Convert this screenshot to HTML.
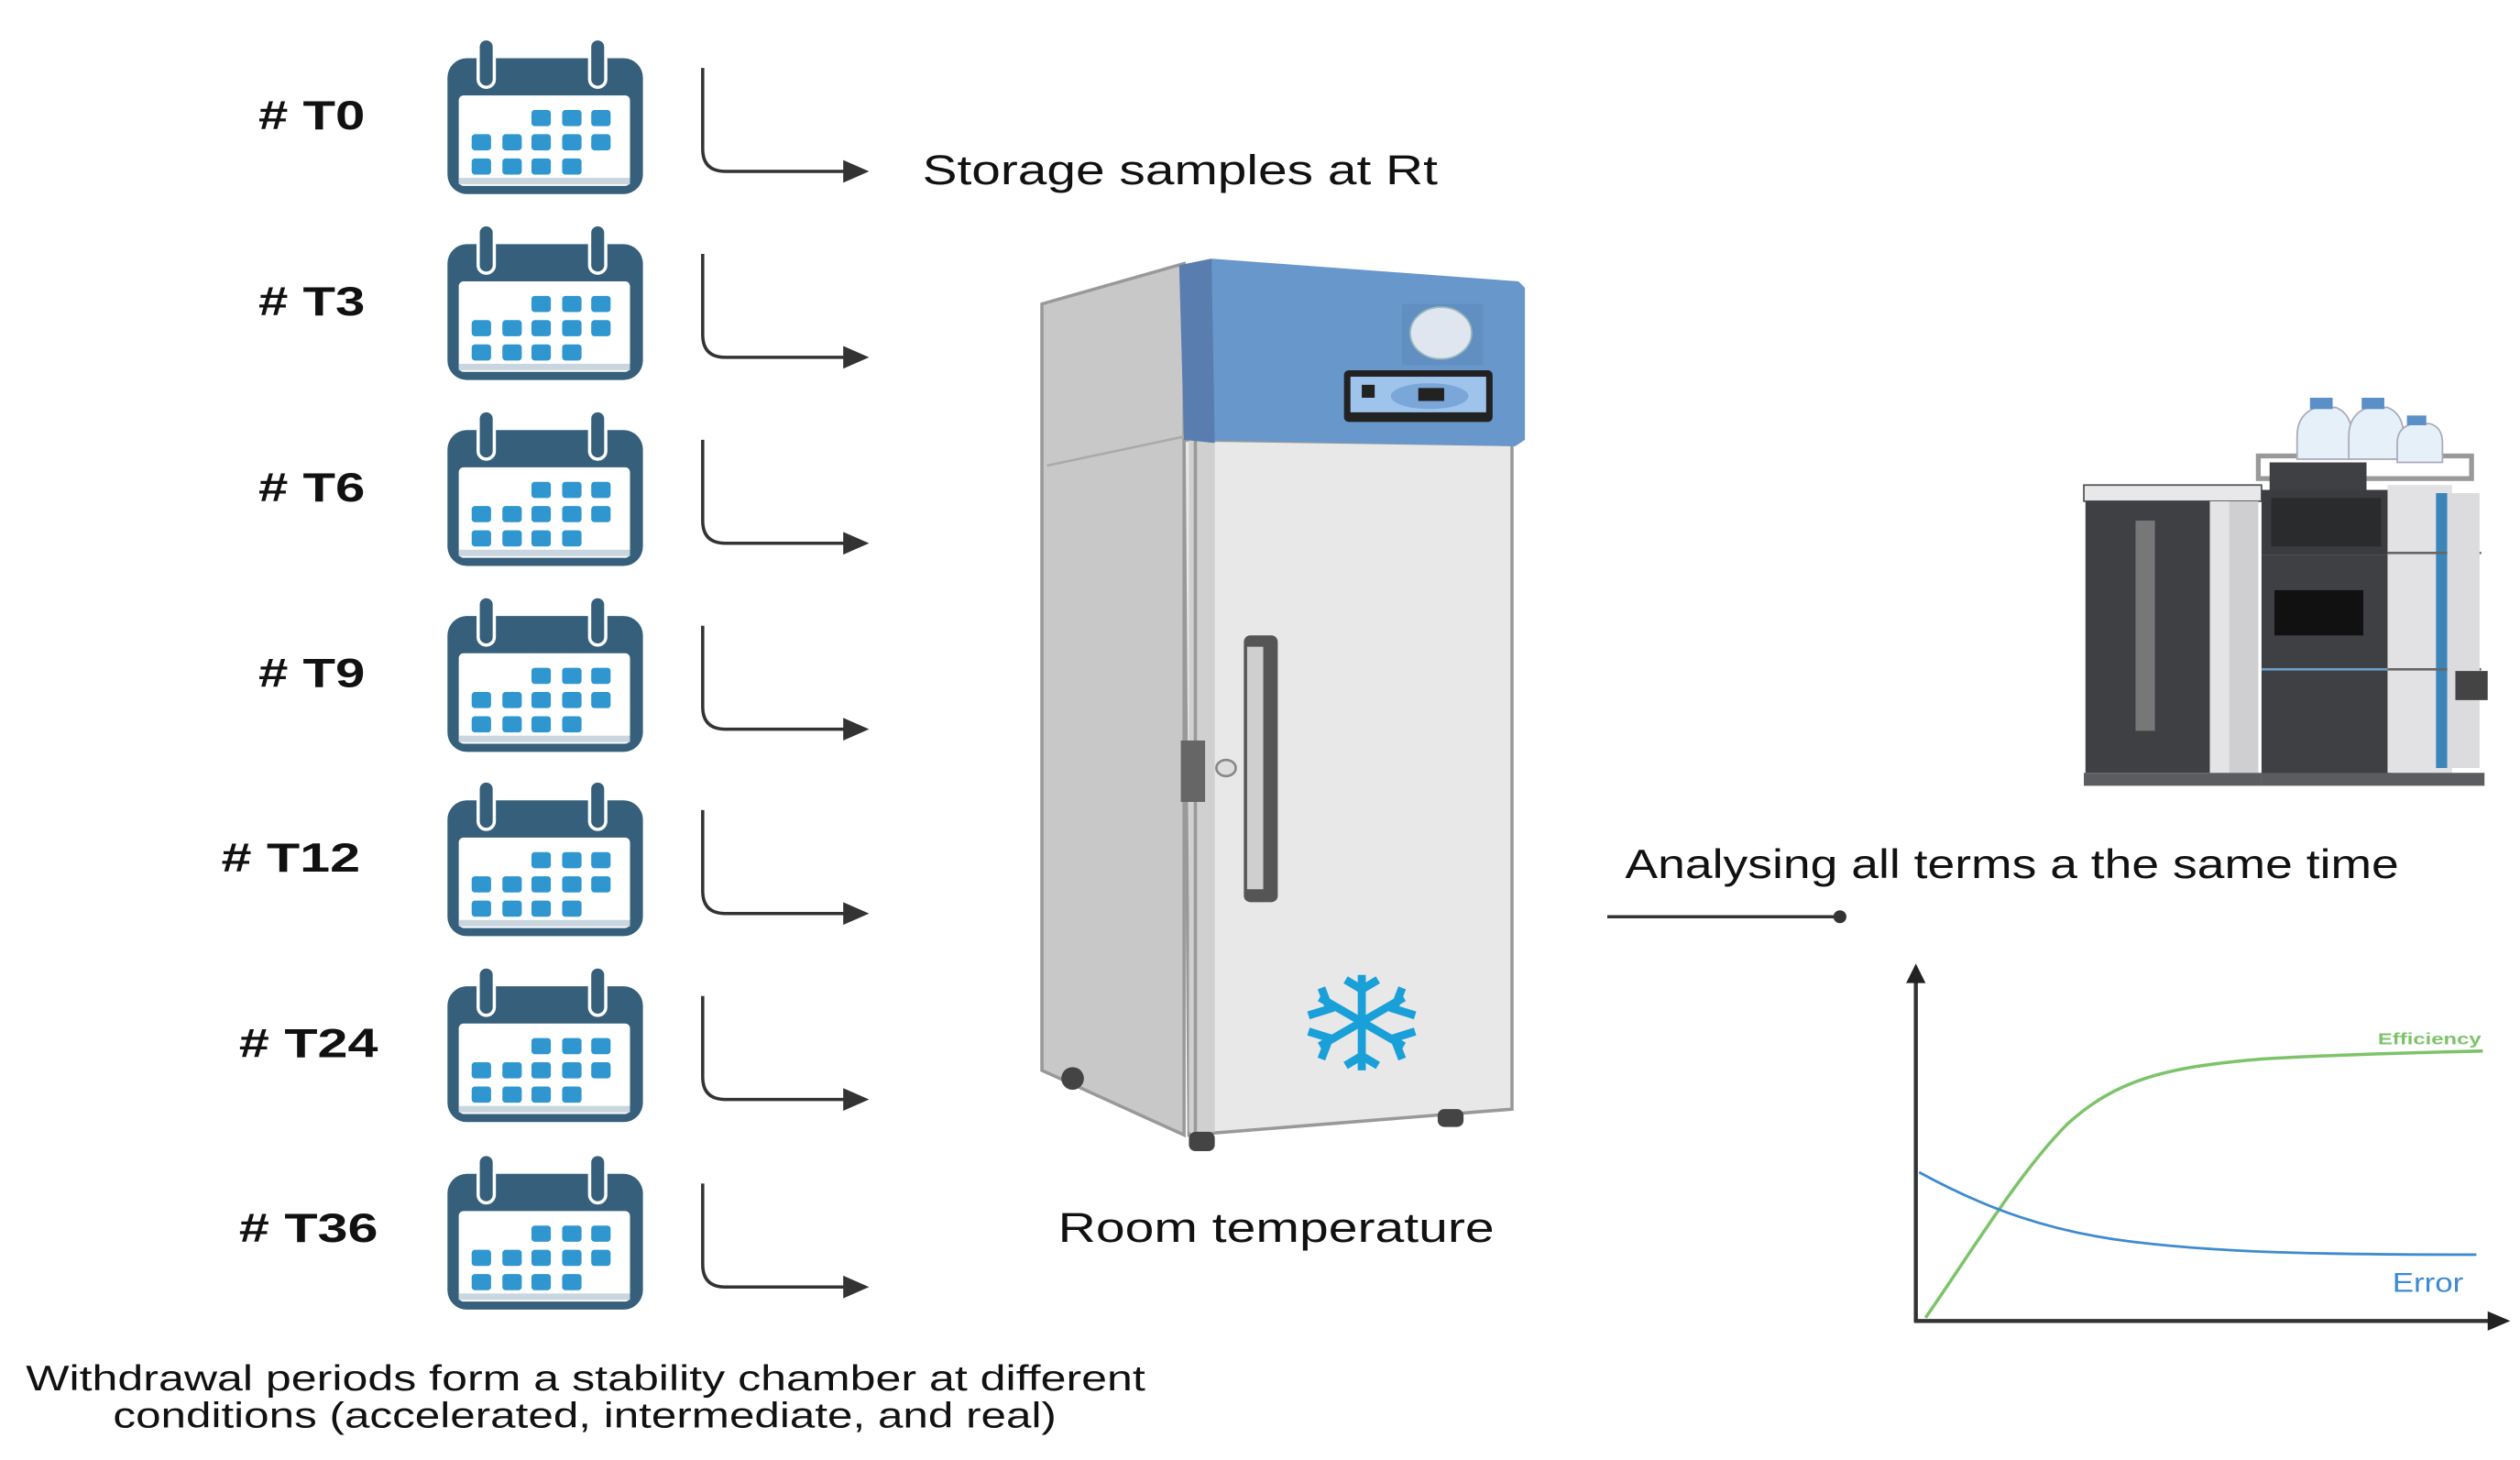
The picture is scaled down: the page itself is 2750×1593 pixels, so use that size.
<!DOCTYPE html>
<html><head><meta charset="utf-8"><style>
html,body{margin:0;padding:0;background:#fff;}
svg{display:block;}
text{font-family:"Liberation Sans",sans-serif;}
</style></head><body>
<svg width="2750" height="1593" viewBox="0 0 1560 903" preserveAspectRatio="none" xmlns="http://www.w3.org/2000/svg">
<defs>
<g id="cal">
  <rect x="277" y="36" width="121" height="84" rx="12" fill="#355f7a"/>
  <rect x="284" y="59" width="106" height="56" rx="3" fill="#fff"/>
  <rect x="284" y="110" width="106" height="4" fill="#c9d6df"/>
  <rect x="296" y="24" width="10" height="30" rx="5" fill="#355f7a" stroke="#fff" stroke-width="2"/>
  <rect x="365" y="24" width="10" height="30" rx="5" fill="#355f7a" stroke="#fff" stroke-width="2"/>
  <g fill="#2f96d0">
    <rect x="329" y="68" width="12" height="10" rx="2"/><rect x="348" y="68" width="12" height="10" rx="2"/><rect x="366" y="68" width="12" height="10" rx="2"/>
    <rect x="292" y="83" width="12" height="10" rx="2"/><rect x="311" y="83" width="12" height="10" rx="2"/><rect x="329" y="83" width="12" height="10" rx="2"/><rect x="348" y="83" width="12" height="10" rx="2"/><rect x="366" y="83" width="12" height="10" rx="2"/>
    <rect x="292" y="98" width="12" height="10" rx="2"/><rect x="311" y="98" width="12" height="10" rx="2"/><rect x="329" y="98" width="12" height="10" rx="2"/><rect x="348" y="98" width="12" height="10" rx="2"/>
  </g>
  <path d="M435 42 V92 Q435 106 449 106 H524" fill="none" stroke="#333" stroke-width="2"/>
  <path d="M522 99 L538 106 L522 113 Z" fill="#333"/>
</g>
</defs>

<g font-weight="bold" font-size="25" fill="#111" lengthAdjust="spacingAndGlyphs">
  <text x="160" y="80" textLength="66" lengthAdjust="spacingAndGlyphs">#  T0</text>
  <text x="160" y="195" textLength="66" lengthAdjust="spacingAndGlyphs">#  T3</text>
  <text x="160" y="310" textLength="66" lengthAdjust="spacingAndGlyphs">#  T6</text>
  <text x="160" y="425" textLength="66" lengthAdjust="spacingAndGlyphs">#  T9</text>
  <text x="137" y="539" textLength="86" lengthAdjust="spacingAndGlyphs">#  T12</text>
  <text x="148" y="654" textLength="86" lengthAdjust="spacingAndGlyphs">#  T24</text>
  <text x="148" y="768" textLength="86" lengthAdjust="spacingAndGlyphs">#  T36</text>
</g>
<use href="#cal"/>
<use href="#cal" transform="translate(0,115)"/>
<use href="#cal" transform="translate(0,230)"/>
<use href="#cal" transform="translate(0,345)"/>
<use href="#cal" transform="translate(0,459)"/>
<use href="#cal" transform="translate(0,574)"/>
<use href="#cal" transform="translate(0,690)"/>

<text x="571" y="114" font-size="26" fill="#111" textLength="319" lengthAdjust="spacingAndGlyphs">Storage samples at Rt</text>

<!-- fridge -->
<g>
  <polygon points="645,188 733,163 733,702 645,662" fill="#c8c8c8" stroke="#999" stroke-width="2"/>
  <line x1="648" y1="288" x2="733" y2="270" stroke="#aaa" stroke-width="1.5"/>
  <circle cx="664" cy="667" r="7" fill="#444"/>
  <polygon points="733,272 936,275 936,686 736,702" fill="#e8e8e8" stroke="#999" stroke-width="2"/>
  <rect x="736" y="272" width="16" height="428" fill="#d0d0d0"/>
  <line x1="740" y1="272" x2="740" y2="700" stroke="#999" stroke-width="2"/>
  <polygon points="730,164 750,160 940,174 944,178 944,272 938,276 733,272" fill="#6897cb"/>
  <polygon points="730,164 750,160 752,274 733,272" fill="#5a7db0"/>
  <rect x="868" y="188" width="50" height="38" fill="#628fc2"/>
  <ellipse cx="892" cy="206" rx="19" ry="16" fill="#dfe6ef" stroke="#9bb" stroke-width="1"/>
  <rect x="832" y="229" width="92" height="32" rx="3" fill="#222"/>
  <rect x="836" y="233" width="84" height="22" fill="#9ec4ec"/>
  <rect x="843" y="238" width="8" height="8" fill="#222"/>
  <ellipse cx="885" cy="245" rx="24" ry="8" fill="#7aa6d8"/>
  <rect x="878" y="240" width="16" height="8" fill="#222"/>
  <rect x="731" y="458" width="15" height="38" fill="#666"/>
  <ellipse cx="759" cy="475" rx="6" ry="5" fill="#ddd" stroke="#888" stroke-width="1.5"/>
  <rect x="770" y="393" width="21" height="165" rx="4" fill="#555"/>
  <rect x="772" y="400" width="10" height="150" fill="#cfcfcf"/>
  <g stroke="#1aa0d8" stroke-width="5" stroke-linecap="butt" fill="none">
    <line x1="843" y1="603" x2="843" y2="662"/>
    <line x1="817" y1="617" x2="869" y2="647"/>
    <line x1="817" y1="647" x2="869" y2="617"/>
    <polyline points="833,606 843,612 853,606"/>
    <polyline points="833,659 843,653 853,659"/>
    <polyline points="810,628 823,624 818,611"/>
    <polyline points="876,628 863,624 868,611"/>
    <polyline points="810,638 823,642 818,655"/>
    <polyline points="876,638 863,642 868,655"/>
  </g>
  <rect x="736" y="700" width="16" height="12" rx="4" fill="#444"/>
  <rect x="890" y="686" width="16" height="11" rx="4" fill="#444"/>
</g>
<text x="655" y="768" font-size="26" fill="#111" textLength="270" lengthAdjust="spacingAndGlyphs">Room temperature</text>

<!-- arrow to analysis -->
<line x1="995" y1="567" x2="1138" y2="567" stroke="#333" stroke-width="2"/>
<circle cx="1139" cy="567" r="4" fill="#333"/>
<text x="1006" y="543" font-size="25" fill="#111" textLength="479" lengthAdjust="spacingAndGlyphs">Analysing all terms a the same time</text>

<!-- HPLC -->
<g>
  <rect x="1290" y="300" width="110" height="10" fill="#e8e8ea" stroke="#555" stroke-width="1"/>
  <rect x="1291" y="310" width="77" height="168" fill="#3e4043"/>
  <rect x="1322" y="322" width="12" height="130" fill="#777"/>
  <rect x="1368" y="310" width="12" height="168" fill="#e4e4e6"/>
  <rect x="1380" y="310" width="18" height="168" fill="#cfcfd2"/>
  <rect x="1290" y="478" width="110" height="8" fill="#5a5c5f"/>
  <rect x="1398" y="282" width="132" height="14" fill="none" stroke="#999" stroke-width="3"/>
  <rect x="1405" y="286" width="60" height="18" fill="#3e4043"/>
  <rect x="1400" y="303" width="80" height="40" fill="#3a3c3f"/>
  <rect x="1406" y="308" width="68" height="30" fill="#2a2b2d"/>
  <rect x="1400" y="343" width="80" height="138" fill="#3e4043"/>
  <rect x="1408" y="365" width="55" height="28" fill="#111"/>
  <line x1="1400" y1="414" x2="1480" y2="414" stroke="#6aa0c8" stroke-width="1.5"/>
  <rect x="1478" y="300" width="40" height="178" fill="#e2e2e5"/>
  <rect x="1508" y="305" width="7" height="170" fill="#3b85b8"/>
  <line x1="1478" y1="342" x2="1536" y2="342" stroke="#666" stroke-width="1.5"/>
  <line x1="1478" y1="414" x2="1536" y2="414" stroke="#666" stroke-width="1.5"/>
  <rect x="1515" y="305" width="20" height="170" fill="#dcdcdf"/>
  <rect x="1520" y="415" width="20" height="18" fill="#444"/>
  <rect x="1400" y="478" width="138" height="8" fill="#5a5c5f"/>
  <path d="M1422 270 Q1422 256 1434 252 L1446 252 Q1456 256 1456 270 L1456 284 L1422 284 Z" fill="#e6f0f8" stroke="#aab" stroke-width="1"/>
  <rect x="1430" y="246" width="14" height="7" fill="#5b8fc7"/>
  <path d="M1454 270 Q1454 256 1466 252 L1478 252 Q1488 256 1488 270 L1488 284 L1454 284 Z" fill="#e6f0f8" stroke="#aab" stroke-width="1"/>
  <rect x="1462" y="246" width="14" height="7" fill="#5b8fc7"/>
  <path d="M1484 274 Q1484 264 1494 262 L1504 262 Q1512 264 1512 274 L1512 286 L1484 286 Z" fill="#e6f0f8" stroke="#aab" stroke-width="1"/>
  <rect x="1490" y="257" width="12" height="6" fill="#5b8fc7"/>
</g>

<!-- chart -->
<g>
  <line x1="1186" y1="818" x2="1186" y2="606" stroke="#333" stroke-width="2.5"/>
  <path d="M1180 608 L1186 596 L1192 608 Z" fill="#222"/>
  <line x1="1185" y1="817" x2="1542" y2="817" stroke="#333" stroke-width="2.5"/>
  <path d="M1540 811 L1554 817 L1540 823 Z" fill="#222"/>
  <path d="M1192 815 C1220 775 1250 725 1280 695 C1310 668 1340 660 1400 655 C1450 652 1500 651 1537 650" fill="none" stroke="#7cc36a" stroke-width="2"/>
  <path d="M1188 725 C1230 748 1270 762 1320 768 C1370 774 1420 776 1533 776" fill="none" stroke="#3d8bd0" stroke-width="1.6"/>
  <text x="1472" y="646" font-size="10" font-weight="bold" fill="#7cc36a" textLength="64" lengthAdjust="spacingAndGlyphs">Efficiency</text>
  <text x="1481" y="799" font-size="17" fill="#3d8bd0" textLength="44" lengthAdjust="spacingAndGlyphs">Error</text>
</g>

<g font-size="22" fill="#111">
  <text x="16" y="860" textLength="693" lengthAdjust="spacingAndGlyphs">Withdrawal periods form a stability chamber at different</text>
  <text x="70" y="883" textLength="584" lengthAdjust="spacingAndGlyphs">conditions (accelerated, intermediate, and real)</text>
</g>
</svg>
</body></html>
